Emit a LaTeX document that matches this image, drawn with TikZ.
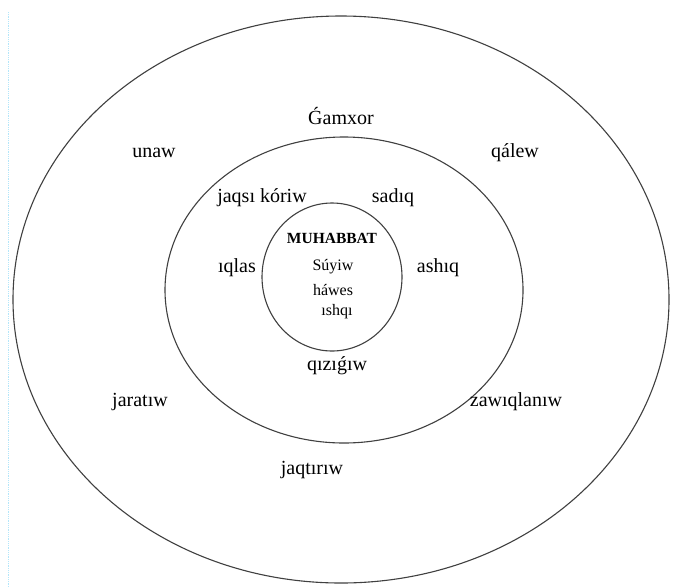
\documentclass[tikz,border=0pt]{standalone}
\usepackage{fontspec}
\setmainfont{Liberation Serif}
\begin{document}
\begin{tikzpicture}[x=1pt,y=-1pt,
  ring/.style={draw=black!75,line width=1.1pt},
  lbl/.style={font=\fontsize{20}{22}\selectfont,inner sep=0pt,anchor=center},
  core/.style={font=\fontsize{16}{18}\selectfont,inner sep=0pt,anchor=center}]
\useasboundingbox (0,0) rectangle (684,587);
\fill[white] (0,0) rectangle (684,587);
\draw[cyan!30,densely dotted,line width=0.8pt] (8,12) -- (8,587);
% rings
\draw[ring] (341,299.5) ellipse [x radius=328,y radius=283.5];
\draw[ring] (344,290) ellipse [x radius=179,y radius=153];
\draw[ring] (332,277) ellipse [x radius=70,y radius=74];
% outer ring labels
\node[lbl] (gamxor) at (341,116) {Ǵamxor};
\node[lbl] (unaw) at (154,153) {unaw};
\node[lbl] (qalew) at (515,153) {qálew};
\node[lbl] (jaratiw) at (140,402) {jaratıw};
\node[lbl] (zawiq) at (516,402) {zawıqlanıw};
\node[lbl] (jaqtiriw) at (312,470) {jaqtırıw};
% middle ring labels
\node[lbl] (jaqsi) at (262,198) {jaqsı kóriw};
\node[lbl] (sadiq) at (393,198) {sadıq};
\node[lbl] (iqlas) at (237,268) {ıqlas};
\node[lbl] (ashiq) at (438,268) {ashıq};
\node[lbl] (qizig) at (337,366) {qızıǵıw};
% core
\node[core,font=\fontsize{15.5}{18}\selectfont\bfseries] (muh) at (332,238) {MUHABBAT};
\node[core] (suyiw) at (333,267) {Súyiw};
\node[core] (hawes) at (333,290) {háwes};
\node[core] (ishqi) at (337,312) {ıshqı};
\end{tikzpicture}
\end{document}
